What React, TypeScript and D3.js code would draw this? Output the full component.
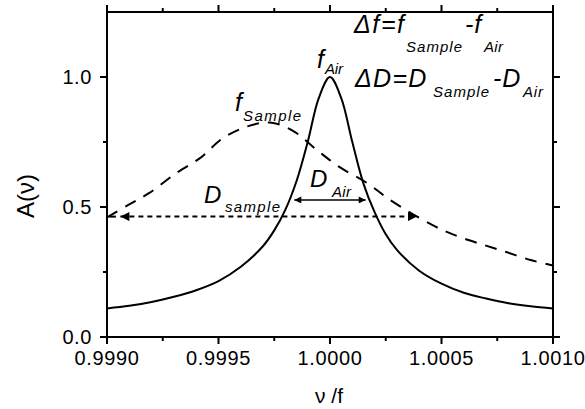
import React, {useRef, useEffect} from 'react';
import * as d3 from 'd3';

// frequency axis (nu/f) and amplitude
const airNu = [0.99900, 0.99910, 0.99920, 0.99930, 0.99940, 0.99950, 0.99960, 0.99970, 0.99975, 0.99980,
  0.99985, 0.99990, 0.99995, 1.00000, 1.00005, 1.00010, 1.00015, 1.00020, 1.00025, 1.00030,
  1.00040, 1.00050, 1.00060, 1.00070, 1.00080, 1.00090, 1.00100];
const airA = [0.110, 0.120, 0.135, 0.155, 0.180, 0.215, 0.270, 0.350, 0.410, 0.490,
  0.600, 0.750, 0.920, 1.000, 0.920, 0.750, 0.590, 0.480, 0.395, 0.335,
  0.255, 0.205, 0.170, 0.148, 0.130, 0.118, 0.110];

const sampleNu = [0.99900, 0.99910, 0.99919, 0.99931, 0.99942, 0.99952, 0.99963, 0.99973, 0.99983, 0.99994,
  1.00004, 1.00017, 1.00027, 1.00046, 1.00058, 1.00069, 1.00079, 1.00090, 1.00100];
const sampleA = [0.460, 0.510, 0.554, 0.630, 0.690, 0.765, 0.810, 0.825, 0.795, 0.720,
  0.655, 0.590, 0.527, 0.430, 0.385, 0.354, 0.327, 0.296, 0.275];

// width markers
const dSampleNu = [0.99906, 1.00039];
const dSampleA = 0.463;
const dAirNu = [0.99984, 1.00016];
const dAirA = 0.527;

const xMajor = [0.9990, 0.9995, 1.0000, 1.0005, 1.0010];
const xMinor = [0.99925, 0.99975, 1.00025, 1.00075];
const yMajor = [0.0, 0.5, 1.0];
const yMinor = [0.25, 0.75];

const W = 585;
const H = 409;
const FONT = "'Liberation Sans', Arial, sans-serif";

export default function App() {
  const ref = useRef(null);

  useEffect(() => {
    const svg = d3.select(ref.current);
    svg.selectAll('*').remove();

    const x = d3.scaleLinear().domain([0.999, 1.001]).range([107, 553]);
    const y = d3.scaleLinear().domain([0, 1.25]).range([337, 12]);
    const [x0, x1] = x.range();
    const [y0, y1] = y.range();

    const defs = svg.append('defs');
    const mk = (id, w, h) => defs.append('marker')
      .attr('id', id)
      .attr('viewBox', '0 0 10 10')
      .attr('refX', 10).attr('refY', 5)
      .attr('markerUnits', 'userSpaceOnUse')
      .attr('markerWidth', w).attr('markerHeight', h)
      .attr('orient', 'auto-start-reverse')
      .append('path').attr('d', 'M0,0 L10,5 L0,10 z').attr('fill', '#000');
    mk('arrBig', 11, 9);
    mk('arrSmall', 9, 7);

    // frame
    svg.append('rect')
      .attr('x', x0).attr('y', y1).attr('width', x1 - x0).attr('height', y0 - y1)
      .attr('fill', 'none').attr('stroke', '#000').attr('stroke-width', 2);

    // ticks, all pointing outward, mirrored on top and right
    const tk = svg.append('g').attr('stroke', '#000').attr('stroke-width', 2);
    const xt = [...xMajor.map(v => [v, 7]), ...xMinor.map(v => [v, 4])];
    const yt = [...yMajor.map(v => [v, 7]), ...yMinor.map(v => [v, 4])];
    xt.forEach(([v, s]) => {
      tk.append('line').attr('x1', x(v)).attr('x2', x(v)).attr('y1', y0).attr('y2', y0 + s);
      tk.append('line').attr('x1', x(v)).attr('x2', x(v)).attr('y1', y1).attr('y2', y1 - s);
    });
    yt.forEach(([v, s]) => {
      tk.append('line').attr('y1', y(v)).attr('y2', y(v)).attr('x1', x0).attr('x2', x0 - s);
      tk.append('line').attr('y1', y(v)).attr('y2', y(v)).attr('x1', x1).attr('x2', x1 + s);
    });

    const lab = svg.append('g').attr('font-family', FONT).attr('font-size', 20).attr('fill', '#000')
      .attr('letter-spacing', 0.6);
    const fx = d3.format('.4f');
    const fy = d3.format('.1f');
    xMajor.forEach(v => {
      lab.append('text').attr('x', x(v)).attr('y', 365).attr('text-anchor', 'middle').text(fx(v));
    });
    yMajor.forEach(v => {
      lab.append('text').attr('x', 92).attr('y', y(v) + 7).attr('text-anchor', 'end').text(fy(v));
    });

    const line = d3.line().x(d => x(d[0])).y(d => y(d[1])).curve(d3.curveCatmullRom.alpha(0.5));

    svg.append('path')
      .datum(airNu.map((v, i) => [v, airA[i]]))
      .attr('d', line)
      .attr('fill', 'none').attr('stroke', '#000').attr('stroke-width', 2);

    svg.append('path')
      .datum(sampleNu.map((v, i) => [v, sampleA[i]]))
      .attr('d', line)
      .attr('fill', 'none').attr('stroke', '#000').attr('stroke-width', 2)
      .attr('stroke-dasharray', '12,9');

    // D_sample arrow (dotted)
    svg.append('line')
      .attr('x1', x(dSampleNu[0])).attr('x2', x(dSampleNu[1]))
      .attr('y1', y(dSampleA)).attr('y2', y(dSampleA))
      .attr('stroke', '#000').attr('stroke-width', 2).attr('stroke-dasharray', '5,4')
      .attr('marker-start', 'url(#arrBig)').attr('marker-end', 'url(#arrBig)');
    svg.append('line')
      .attr('x1', x(0.99901)).attr('x2', x(0.99904))
      .attr('y1', y(dSampleA)).attr('y2', y(dSampleA))
      .attr('stroke', '#000').attr('stroke-width', 2);

    // D_Air arrow
    svg.append('line')
      .attr('x1', x(dAirNu[0])).attr('x2', x(dAirNu[1]))
      .attr('y1', y(dAirA)).attr('y2', y(dAirA))
      .attr('stroke', '#000').attr('stroke-width', 1.6)
      .attr('marker-start', 'url(#arrSmall)').attr('marker-end', 'url(#arrSmall)');

    // annotations
    const ann = svg.append('g').attr('font-family', FONT).attr('font-style', 'italic').attr('fill', '#000');
    const put = (t, px, py, size, len, ls) => {
      const el = ann.append('text').attr('x', px).attr('y', py).attr('font-size', size).text(t);
      if (len) el.attr('textLength', len).attr('lengthAdjust', 'spacing');
      if (ls) el.attr('letter-spacing', ls);
    };
    put('Δf=f', 354, 33, 25, null, 1.6);
    put('Sample', 406, 52, 15, 56);
    put('-f', 465, 33, 25, null, 1);
    put('Air', 484, 52, 15, 19);

    put('ΔD=D', 355, 87, 25, null, 1.3);
    put('Sample', 433, 97, 15, 56);
    put('-D', 493, 87, 25, null, 1);
    put('Air', 523, 97, 15, 20);

    put('f', 317, 68, 25);
    put('Air', 325, 74, 15, 18);

    put('f', 235, 111, 25);
    put('Sample', 243, 121, 15, 58);

    put('D', 204, 203, 24);
    put('sample', 225, 212, 15, 55);

    put('D', 310, 187, 24);
    put('Air', 332, 197, 15, 19);

    // axis titles
    svg.append('text')
      .attr('x', 329).attr('y', 403)
      .attr('text-anchor', 'middle')
      .attr('font-family', FONT).attr('font-size', 21)
      .text('ν /f');
    svg.append('text')
      .attr('transform', 'translate(34,196) rotate(-90)')
      .attr('text-anchor', 'middle')
      .attr('font-family', FONT).attr('font-size', 24)
      .text('A(ν)');
  }, []);

  return (
    <div style={{position: 'absolute', left: 0, top: 0}}>
      <svg ref={ref} width={W} height={H} style={{display: 'block', background: '#fff'}} />
    </div>
  );
}
